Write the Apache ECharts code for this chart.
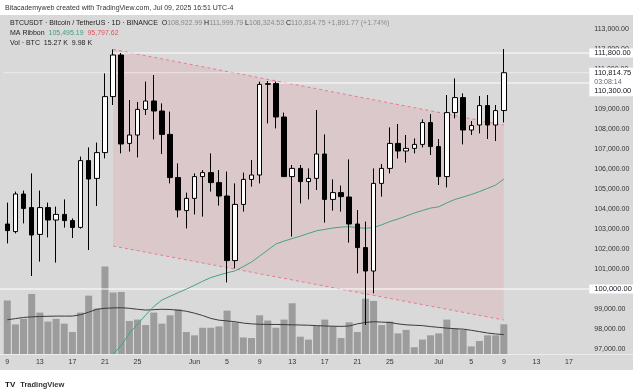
<!DOCTYPE html>
<html><head><meta charset="utf-8">
<script src="https://cdn.jsdelivr.net/npm/echarts@6/dist/echarts.min.js"></script>
<style>
html,body{margin:0;padding:0;background:#fff;width:640px;height:391px;overflow:hidden}
#bg{position:absolute;left:0;top:15px;width:633px;height:355px;background:#d9d9d9}
#sep{position:absolute;left:0;top:354px;width:633px;height:1px;background:#ececec}
#chart{position:absolute;left:0;top:0;width:640px;height:391px}
</style></head><body>
<div id="bg"></div><div id="sep"></div><div id="chart"></div>
<script>
// ---- categories (daily) ----
const dates = [
'2025-05-09','2025-05-10','2025-05-11','2025-05-12','2025-05-13','2025-05-14','2025-05-15','2025-05-16','2025-05-17','2025-05-18',
'2025-05-19','2025-05-20','2025-05-21','2025-05-22','2025-05-23','2025-05-24','2025-05-25','2025-05-26','2025-05-27','2025-05-28',
'2025-05-29','2025-05-30','2025-05-31','2025-06-01','2025-06-02','2025-06-03','2025-06-04','2025-06-05','2025-06-06','2025-06-07',
'2025-06-08','2025-06-09','2025-06-10','2025-06-11','2025-06-12','2025-06-13','2025-06-14','2025-06-15','2025-06-16','2025-06-17',
'2025-06-18','2025-06-19','2025-06-20','2025-06-21','2025-06-22','2025-06-23','2025-06-24','2025-06-25','2025-06-26','2025-06-27',
'2025-06-28','2025-06-29','2025-06-30','2025-07-01','2025-07-02','2025-07-03','2025-07-04','2025-07-05','2025-07-06','2025-07-07',
'2025-07-08','2025-07-09','2025-07-10','2025-07-11','2025-07-12','2025-07-13','2025-07-14','2025-07-15','2025-07-16','2025-07-17',
'2025-07-18','2025-07-19'];

// ---- OHLC (May 9 .. Jul 9) ----
const openP = [103250,102870,104750,104070,102730,104070,103450,103730,103420,103080,
106420,105530,106820,109620,111700,107280,107700,108980,109400,108900,
107730,105570,103920,104530,105620,105820,105320,104650,101420,104230,
105480,105700,110230,110270,108600,105620,106030,105370,105530,106750,
104480,104820,104600,103250,102070,100900,105280,106030,107280,106900,
107030,107230,108320,107120,105620,108820,109570,107950,108200,109170,
108200,108922.99];
const highP = [104320,104870,104920,105780,104920,104320,104120,104480,103530,106620,
107080,107320,110780,111980,111800,109450,109350,110370,110700,109280,
108870,106280,104820,105780,105950,106780,105950,105870,105280,105820,
106450,110370,110400,110370,108820,106200,106200,106030,108950,107730,
105480,105170,106480,103950,103370,106030,106250,108080,108250,107700,
107530,108480,108750,107500,109700,110530,109780,108400,109650,109700,
109200,111999.79];
const lowP = [102280,102780,103280,100650,101370,102580,101320,103070,102550,103020,
101950,104150,106530,109200,106780,106870,106580,108700,107480,106750,
105280,103580,103030,103730,103620,104870,104170,100330,101030,103870,
105120,105280,108280,108030,105600,102620,104280,104480,104950,103320,
103920,103870,102320,100780,98200,99780,104620,105780,106530,106320,
106780,107080,106700,105200,105080,108530,107230,107700,107780,107500,
107400,108324.53];
const closeP = [102920,104750,104030,102700,104070,103450,103730,103420,103080,106420,
105500,106820,109620,111700,107250,107700,108980,109400,108900,107730,
105570,103950,104530,105620,105820,105320,104650,101420,104230,105480,
105700,110230,110270,108600,105620,106030,105370,105530,106750,104480,
104820,104620,103250,102070,100900,105280,106030,107280,106900,107030,
107230,108320,107120,105620,108820,109570,107950,108170,109170,108200,
108920,110814.75];

// ---- volume (K BTC) and its moving average ----
const volume = [27.5,15.2,18.1,30.9,21.3,16.7,18.1,15.6,11.3,21.3,
30.0,23.4,45.0,31.6,31.9,17.0,17.7,14.9,21.3,15.6,
19.9,23.0,11.3,9.6,13.5,13.5,14.2,22.3,16.3,8.5,
8.2,19.9,17.2,13.5,17.7,26.1,8.9,7.4,14.5,17.7,
14.2,8.2,16.3,11.3,28.4,27.3,14.9,16.7,10.6,12.4,
3.5,7.4,9.6,10.6,17.7,13.1,12.4,3.9,6.7,9.6,
9.6,15.27];
const volumeMA = [17.6,18.2,18.8,19.1,19.3,19.4,19.5,19.5,19.5,20.2,
21.5,23.0,23.5,23.7,23.8,23.5,23.0,22.6,22.8,23.0,
22.9,22.5,22.0,21.0,19.8,18.3,17.4,17.0,16.6,15.9,
15.5,15.3,15.2,15.2,15.1,15.0,14.9,14.8,14.6,14.4,
14.3,14.2,14.4,15.5,16.2,16.6,16.4,16.2,15.5,15.0,
14.8,14.6,14.1,13.7,13.3,13.0,12.8,12.2,11.5,10.8,
10.3,9.98];

// ---- MA ribbon (green) ----
const maGreen = [null,null,null,null,null,null,null,null,null,null,
null,null,null,96750,97170,97780,98245,98695,99125,99450,
99635,99820,99995,100185,100390,100570,100695,100810,100910,101125,
101350,101645,101950,102250,102395,102520,102645,102780,102910,102980,
103050,103095,103115,103075,103035,103075,103210,103375,103500,103650,
103800,103925,104045,104110,104305,104480,104600,104725,104870,105030,
105200,105495.19];

// ---- drawings ----
const channelDates = ['2025-05-22','2025-07-09'];
const channelUpper = [111980, 108200];
const channelLower = [102150, 98450];
const hLineValues = [111800, 110300, 100000];
const hLineFrom = ['2025-05-22','2025-06-10', null];
const lastPrice = 110814.75;
const countdown = '03:08:14';

// ---- axis tick labels ----
const tickDates = ['2025-05-09','2025-05-13','2025-05-17','2025-05-21','2025-05-25','2025-06-01','2025-06-05','2025-06-09','2025-06-13','2025-06-17','2025-06-21','2025-06-25','2025-07-01','2025-07-05','2025-07-09','2025-07-13','2025-07-17'];
const tickText  = ['9','13','17','21','25','Jun','5','9','13','17','21','25','Jul','5','9','13','17'];

const FONT = '"Liberation Sans", Arial, sans-serif';
const fmt = v => v.toLocaleString('en-US',{minimumFractionDigits:2, maximumFractionDigits:2});

const candleData = openP.map((o,i)=>[o, closeP[i], lowP[i], highP[i]]);

function renderDrawings(params, api){
  const cs = params.coordSys;
  const R = cs.x + cs.width;
  const i0 = dates.indexOf(channelDates[0]), i1 = dates.indexOf(channelDates[1]);
  const u0 = api.coord([i0, channelUpper[0]]), u1 = api.coord([i1, channelUpper[1]]);
  const l0 = api.coord([i0, channelLower[0]]), l1 = api.coord([i1, channelLower[1]]);
  const ch = [
    {type:'polygon', shape:{points:[u0,u1,l1,l0]}, style:{fill:'rgba(242,60,80,0.10)'}},
    {type:'polyline', shape:{points:[u0,u1]}, style:{stroke:'#e8788a', lineWidth:1, lineDash:[3,3], fill:null}},
    {type:'polyline', shape:{points:[l0,l1]}, style:{stroke:'#e8788a', lineWidth:1, lineDash:[3,3], fill:null}}
  ];
  const yl = api.coord([0, lastPrice])[1];
  ch.push({type:'line', shape:{x1:cs.x, y1:yl, x2:R, y2:yl}, style:{stroke:'rgba(255,255,255,0.5)', lineWidth:1}});
  hLineValues.forEach((v,k)=>{
    const y = api.coord([0, v])[1];
    const x = hLineFrom[k] ? api.coord([dates.indexOf(hLineFrom[k]), v])[0] : cs.x - 4;
    ch.push({type:'line', shape:{x1:x, y1:y, x2:R, y2:y}, style:{stroke:'#ffffff', lineWidth:1.2}});
  });
  return {type:'group', children: ch};
}

function renderLabels(params, api){
  const cs = params.coordSys;
  const R = cs.x + cs.width;
  const f = '7.5px ' + FONT;
  const ch = [];
  [hLineValues[0], hLineValues[2]].forEach(v=>{
    const y = api.coord([0, v])[1];
    ch.push({type:'rect', shape:{x:R, y:y-4.5, width:44, height:9}, style:{fill:'#ffffff'}});
    ch.push({type:'text', x:R+5, y:y, style:{text:fmt(v), fill:'#131722', font:f, align:'left', verticalAlign:'middle'}});
  });
  const yc = api.coord([0, lastPrice])[1];
  ch.push({type:'rect', shape:{x:R, y:yc-5, width:44, height:28.5}, style:{fill:'#ffffff'}});
  ch.push({type:'text', x:R+5, y:yc, style:{text:fmt(lastPrice), fill:'#131722', font:f, align:'left', verticalAlign:'middle'}});
  ch.push({type:'text', x:R+5, y:yc+9, style:{text:countdown, fill:'#666666', font:'7px '+FONT, align:'left', verticalAlign:'middle'}});
  ch.push({type:'text', x:R+5, y:yc+18.3, style:{text:fmt(hLineValues[1]), fill:'#131722', font:f, align:'left', verticalAlign:'middle'}});
  return {type:'group', children: ch};
}

const gridLeft = 3.2, gridWidth = 586.1;
const chart = echarts.init(document.getElementById('chart'), null, {renderer:'canvas'});
chart.setOption({
  animation:false,
  backgroundColor:'transparent',
  textStyle:{fontFamily:FONT},
  title:[
    {text:'Bitacademyweb created with TradingView.com, Jul 09, 2025 16:51 UTC-4', left:5, top:4.5, padding:0,
     textStyle:{fontSize:7, fontWeight:'normal', color:'#333333', fontFamily:FONT}},
    {text:'{d|BTCUSDT · Bitcoin / TetherUS · 1D · BINANCE}  {d|O}{g|108,922.99} {d|H}{g|111,999.79} {d|L}{g|108,324.53} {d|C}{g|110,814.75} {g|+1,891.77 (+1.74%)}',
     left:10, top:20, padding:0,
     textStyle:{fontSize:7, fontWeight:'normal', rich:{d:{fontSize:7,color:'#222222',fontFamily:FONT}, g:{fontSize:7,color:'#8a8a8a',fontFamily:FONT}}}},
    {text:'{d|MA Ribbon}  {gr|105,495.19}  {r|95,797.62}', left:10, top:30, padding:0,
     textStyle:{fontSize:7, fontWeight:'normal', rich:{d:{fontSize:7,color:'#222222',fontFamily:FONT}, gr:{fontSize:7,color:'#3f9e80',fontFamily:FONT}, r:{fontSize:7,color:'#e0505f',fontFamily:FONT}}}},
    {text:'{d|Vol · BTC}  {d|15.27 K}  {d|9.98 K}', left:10, top:39.3, padding:0,
     textStyle:{fontSize:7, fontWeight:'normal', rich:{d:{fontSize:7,color:'#222222',fontFamily:FONT}}}},
    {text:'{l|TV} {t|TradingView}', left:5, top:376, padding:0,
     textStyle:{rich:{l:{fontSize:8,fontWeight:'bold',color:'#131722',fontFamily:FONT}, t:{fontSize:7.5,color:'#333333',fontFamily:FONT}}}}
  ],
  grid:[
    {left:gridLeft, width:gridWidth, top:9, height:360},
    {left:gridLeft, width:gridWidth, top:4, height:350}
  ],
  xAxis:[
    {type:'category', data:dates, gridIndex:0, show:false, boundaryGap:true},
    {type:'category', data:dates, gridIndex:1, boundaryGap:true,
     axisLine:{show:false}, axisTick:{show:false}, splitLine:{show:false},
     axisLabel:{interval:(i,v)=>tickDates.includes(v), formatter:v=>{const k=tickDates.indexOf(v); return k>=0?tickText[k]:'';},
       fontSize:7, color:'#333333', margin:5}}
  ],
  yAxis:[
    {type:'value', gridIndex:0, position:'right', min:96000, max:114000, interval:1000, scale:false,
     axisLine:{show:false}, axisTick:{show:false}, splitLine:{show:false},
     axisLabel:{margin:5, fontSize:7, color:'#333333', align:'left',
       formatter:v=> (v<97000||v>113000)?'':fmt(v)}},
    {type:'value', gridIndex:1, min:0, max:180, show:false, splitLine:{show:false}}
  ],
  series:[
    {type:'bar', name:'Volume', xAxisIndex:1, yAxisIndex:1, data:volume, barWidth:7,
     itemStyle:{color:'#9c9c9c'}, z:1, silent:true},
    {type:'line', name:'Vol MA', xAxisIndex:1, yAxisIndex:1, data:volumeMA, symbol:'none',
     lineStyle:{color:'#3a3a3a', width:1}, z:2, silent:true},
    {type:'custom', name:'Channel', xAxisIndex:0, yAxisIndex:0, data:[[0,100000]], renderItem:renderDrawings, clip:false, z:3, silent:true},
    {type:'line', name:'MA', xAxisIndex:0, yAxisIndex:0, data:maGreen, symbol:'none', connectNulls:false,
     lineStyle:{color:'#45a085', width:1}, z:4, silent:true},
    {type:'candlestick', name:'BTCUSDT', xAxisIndex:0, yAxisIndex:0, data:candleData, barWidth:5,
     itemStyle:{color:'#ffffff', color0:'#000000', borderColor:'#000000', borderColor0:'#000000', borderColorDoji:'#000000', borderWidth:1}, z:5, silent:true},
    {type:'custom', name:'Labels', xAxisIndex:0, yAxisIndex:0, data:[[0,100000]], renderItem:renderLabels, clip:false, z:10, silent:true}
  ]
});
</script></body></html>
